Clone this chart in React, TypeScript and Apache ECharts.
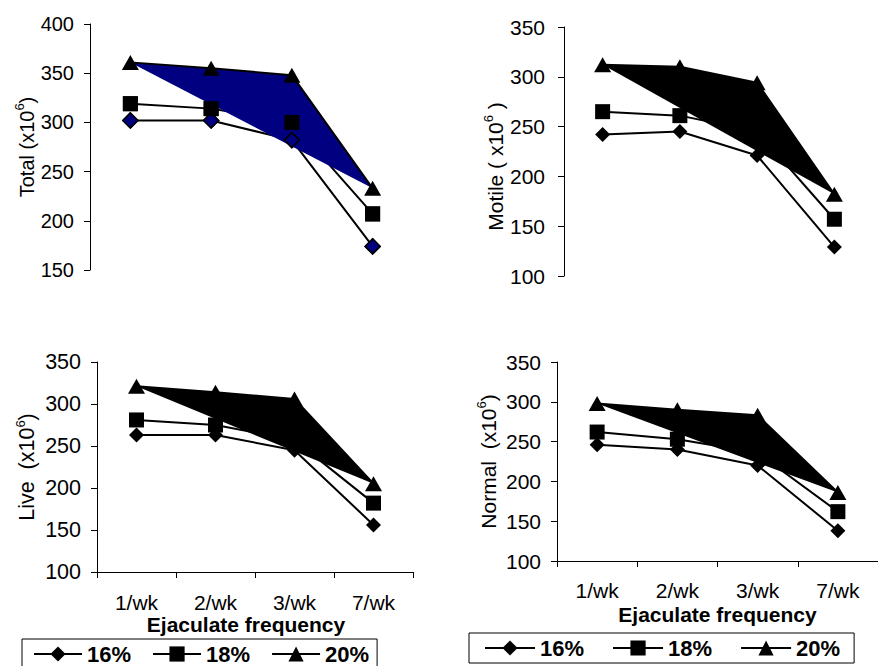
import React, { useEffect, useRef } from "react";
import * as echarts from "echarts";

const categories = ["1/wk", "2/wk", "3/wk", "7/wk"];
const seriesNames = ["16%", "18%", "20%"];

const total16 = [302, 302, 282, 174];
const total18 = [319, 314, 300, 207];
const total20 = [361, 355, 348, 233];

const motile16 = [242, 245, 221, 129];
const motile18 = [265, 261, 245, 157];
const motile20 = [312, 310, 294, 182];

const live16 = [263, 263, 245, 156];
const live18 = [281, 275, 257, 182];
const live20 = [321, 314, 306, 205];

const normal16 = [246, 240, 220, 138];
const normal18 = [262, 253, 236, 162];
const normal20 = [298, 290, 283, 186];

const totalTicks = { min: 150, max: 400, interval: 50 };
const otherTicks = { min: 100, max: 350, interval: 50 };

const xAxisTitle = "Ejaculate frequency";
const yTitles = [
  "{a|Total (x10}{s|6}{a|)}",
  "{a|Motile ( x10}{s|6}{a| )}",
  "{a|Live  (x10}{s|6}{a|)}",
  "{a|Normal  (x10}{s|6}{a|)}",
];

const FONT = "'Liberation Sans', Arial, sans-serif";

export default function App() {
  const ref = useRef<HTMLDivElement>(null);

  useEffect(() => {
    document.body.style.margin = "0";
    if (!ref.current) return;
    const chart = echarts.init(ref.current, null, { renderer: "svg" });

    const panels = [
      { v16: total16, v18: total18, v20: total20, ticks: totalTicks, fill: "#000080", d16: "#000080",
        grid: { left: 90, top: 24, width: 323, height: 246 }, showX: false, nameGap: 53, namePad: [0, 0, 0, 0],
        labelMargin: 20, xNameGap: 50, yFont: 20, yMargin: 16 },
      { v16: motile16, v18: motile18, v20: motile20, ticks: otherTicks, fill: "#000", d16: "#000",
        grid: { left: 564, top: 27, width: 309, height: 249 }, showX: false, nameGap: 58, namePad: [0, 30, 0, 0],
        labelMargin: 20, xNameGap: 50, yFont: 21, yMargin: 19 },
      { v16: live16, v18: live18, v20: live20, ticks: otherTicks, fill: "#000", d16: "#000",
        grid: { left: 97, top: 362, width: 316, height: 210 }, showX: true, nameGap: 59, namePad: [0, 0, 0, 0],
        labelMargin: 20, xNameGap: 40, xNamePad: [0, 18, 0, 0], yFont: 21.5, yMargin: 16 },
      { v16: normal16, v18: normal18, v20: normal20, ticks: otherTicks, fill: "#000", d16: "#000",
        grid: { left: 557, top: 362, width: 332, height: 199 }, showX: true, nameGap: 58, namePad: [0, 0, 0, 0],
        labelMargin: 19, xNameGap: 43, xNamePad: [0, 0, 0, 0], yFont: 21, yMargin: 16 },
    ];

    const grids = panels.map((p) => p.grid);
    const xAxes = panels.map((p, i) => ({
      type: "category",
      gridIndex: i,
      data: categories,
      show: p.showX,
      boundaryGap: true,
      axisLine: { show: true, lineStyle: { color: "#000", width: 1 } },
      axisTick: { show: true, length: 6, lineStyle: { color: "#000" } },
      axisLabel: { color: "#000", fontSize: 21, fontFamily: FONT, margin: p.labelMargin },
      splitLine: { show: false },
      name: p.showX ? xAxisTitle : "",
      nameLocation: "middle",
      nameGap: p.xNameGap,
      nameTextStyle: { color: "#000", fontSize: 21, fontWeight: "bold", fontFamily: FONT, padding: (p as any).xNamePad || 0 },
    }));
    const yAxes = panels.map((p, i) => ({
      type: "value",
      gridIndex: i,
      min: p.ticks.min,
      max: p.ticks.max,
      interval: p.ticks.interval,
      axisLine: { show: true, lineStyle: { color: "#000", width: 1 } },
      axisTick: { show: true, length: 6, lineStyle: { color: "#000" } },
      axisLabel: { color: "#000", fontSize: p.yFont, fontFamily: FONT, margin: p.yMargin },
      splitLine: { show: false },
      name: yTitles[i],
      nameLocation: "middle",
      nameGap: p.nameGap,
      nameTextStyle: {
        color: "#000",
        fontFamily: FONT,
        padding: p.namePad,
        rich: {
          a: { fontSize: p.yFont, fontFamily: FONT, color: "#000", lineHeight: 24, verticalAlign: "bottom" },
          s: { fontSize: 13, fontFamily: FONT, color: "#000", lineHeight: 13, verticalAlign: "top" },
        },
      },
    }));

    const order = [2, 3, 0, 1];
    const series: any[] = [];
    const lineBase = (name: string, i: number, data: number[], symbol: string, size: any, color: string, z: number) => ({
      type: "line",
      name,
      xAxisIndex: i,
      yAxisIndex: i,
      data,
      symbol,
      symbolSize: size,
      z,
      lineStyle: { color: "#000", width: 2 },
      itemStyle: { color, borderColor: "#000", borderWidth: color === "#000" ? 0 : 1.5 },
      emphasis: { disabled: true },
    });
    order.forEach((i) => {
      const p = panels[i];
      series.push(lineBase(seriesNames[0], i, p.v16, "diamond", [15, 15], p.d16, 2));
      series.push(lineBase(seriesNames[1], i, p.v18, "rect", [15, 15], "#000", 2));
      series.push({
        type: "custom",
        xAxisIndex: i,
        yAxisIndex: i,
        z: 3,
        silent: true,
        data: p.v20.map((v, k) => [k, v]),
        renderItem: (params: any, api: any) => {
          if (params.dataIndex !== 0) return null;
          return {
            type: "polygon",
            shape: { points: p.v20.map((v, k) => api.coord([k, v])) },
            style: { fill: p.fill },
          };
        },
      });
      series.push(lineBase(seriesNames[2], i, p.v20, "triangle", [17, 15], "#000", 4));
      if (i === 0) {
        const m16 = lineBase(seriesNames[0], i, p.v16, "diamond", [15, 15], p.d16, 5);
        const m18 = lineBase(seriesNames[1], i, p.v18, "rect", [15, 15], "#000", 5);
        (m16 as any).lineStyle = { width: 0, opacity: 0 };
        (m18 as any).lineStyle = { width: 0, opacity: 0 };
        series.push(m16, m18);
      }
    });

    const legendCommon = {
      data: seriesNames,
      orient: "horizontal",
      borderColor: "#000",
      borderWidth: 1,
      itemHeight: 19,
      textStyle: { color: "#000", fontSize: 22, fontWeight: "bold", fontFamily: FONT },
      selectedMode: false,
    };

    chart.setOption({
      animation: false,
      backgroundColor: "#fff",
      grid: grids,
      xAxis: xAxes,
      yAxis: yAxes,
      legend: [
        { ...legendCommon, left: 22, top: 639, itemWidth: 48, itemGap: 21, padding: [4, 8, 4, 11] },
        { ...legendCommon, left: 469, top: 633, itemWidth: 50, itemGap: 28, padding: [4, 14, 4, 15] },
      ],
      series,
    });

    return () => chart.dispose();
  }, []);

  return <div ref={ref} style={{ width: 878, height: 666 }} />;
}
